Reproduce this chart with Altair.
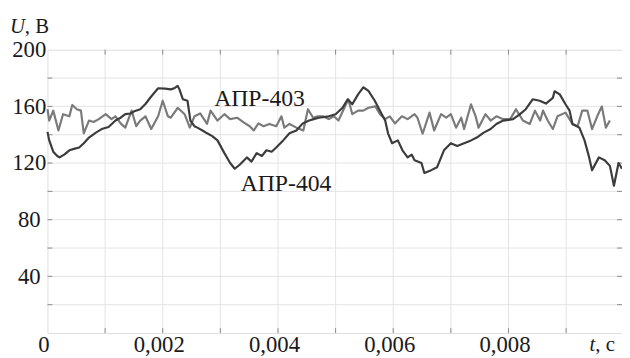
import altair as alt
import pandas as pd

# time in ms (axis shows seconds: 0,002 ...), voltage in V
t_403 = [0, 0.03, 0.10, 0.19, 0.27, 0.38, 0.43, 0.51, 0.58, 0.63,
         0.72, 0.80, 0.89, 1.01, 1.11, 1.18, 1.27, 1.35, 1.46, 1.54,
         1.61, 1.70, 1.80, 1.92, 2.00, 2.09, 2.14, 2.26, 2.38, 2.47,
         2.55, 2.65, 2.77, 2.83, 2.95, 3.07, 3.17, 3.29, 3.41, 3.51,
         3.58, 3.66, 3.75, 3.85, 3.97, 4.06, 4.11, 4.20, 4.32, 4.44,
         4.52, 4.61, 4.69, 4.78, 4.88, 4.97, 5.05, 5.14, 5.22, 5.29,
         5.39, 5.48, 5.57, 5.69, 5.77, 5.86, 5.94, 6.03, 6.15, 6.25,
         6.37, 6.42, 6.51, 6.63, 6.71, 6.83, 6.92, 7.00, 7.09, 7.18,
         7.23, 7.35, 7.43, 7.48, 7.60, 7.69, 7.79, 7.91, 8.03, 8.13,
         8.25, 8.37, 8.46, 8.55, 8.60, 8.68, 8.77, 8.85, 8.99, 9.11,
         9.20, 9.28, 9.37, 9.45, 9.54, 9.62, 9.69, 9.76]
u_403 = [158, 150, 157, 143, 154.5, 153, 161, 158, 157, 141,
         150, 149, 151, 154.5, 151, 153, 148, 145, 157, 146,
         150, 153, 144, 153, 164, 153, 152, 159, 154.5, 145,
         153, 155, 147.7, 157, 150, 154.5, 151, 152, 148.5, 146,
         143, 148, 146, 147.6, 146, 153, 145, 147.6, 145, 143,
         158, 152, 153, 153, 151, 153, 150, 158, 165, 154.5,
         157, 157, 159, 160, 154.5, 151, 153, 148, 153, 151,
         154.5, 152, 140.7, 155.6, 143, 154.5, 152, 154.5, 145, 152,
         144, 161.5, 153, 145, 154.5, 150, 153, 151, 151, 158,
         150, 147.6, 157, 150, 157, 150, 144, 153, 155.6, 147.6,
         146, 157, 157, 144, 153, 160, 145, 150]

t_404 = [0, 0.03, 0.10, 0.17, 0.21, 0.29, 0.38, 0.46, 0.55, 0.63,
         0.72, 0.84, 0.94, 1.06, 1.18, 1.27, 1.35, 1.44, 1.52, 1.61,
         1.70, 1.80, 1.92, 2.04, 2.14, 2.21, 2.26, 2.29, 2.35, 2.43,
         2.48, 2.55, 2.60, 2.69, 2.77, 2.86, 2.95, 3.07, 3.17, 3.25,
         3.34, 3.46, 3.54, 3.63, 3.72, 3.80, 3.89, 3.97, 4.09, 4.20,
         4.32, 4.43, 4.54, 4.62, 4.71, 4.88, 5.00, 5.12, 5.21, 5.29,
         5.39, 5.48, 5.57, 5.68, 5.77, 5.86, 5.91, 5.98, 6.08, 6.16,
         6.25, 6.32, 6.37, 6.49, 6.54, 6.66, 6.76, 6.88, 7.00, 7.11,
         7.23, 7.35, 7.45, 7.57, 7.69, 7.79, 7.91, 8.08, 8.20, 8.30,
         8.42, 8.54, 8.65, 8.77, 8.80, 8.89, 8.99, 9.06, 9.11, 9.23,
         9.32, 9.40, 9.45, 9.57, 9.67, 9.76, 9.83, 9.91, 9.97]
u_404 = [142, 136, 128, 125, 124, 126, 129, 130, 131, 134,
         138, 141.5, 144, 145.5, 150, 152, 154.5, 155, 156.8, 158,
         161.7, 167, 172.8, 172.5, 172, 173, 174.5, 172, 165, 164,
         150, 146, 145, 143, 141, 139, 136, 127, 120, 116,
         119, 124, 121, 127, 125, 129, 128, 131, 136, 141,
         143, 148, 150, 151, 152, 153, 154.5, 159, 165, 161.5,
         168.5, 173.5, 171, 164, 157, 150, 141, 134, 136, 129,
         124, 126, 122, 120, 113, 115, 117, 129, 134, 132,
         134, 136, 138, 141.5, 144, 147.6, 150, 151, 154.5, 158,
         165, 164, 162, 166, 170.7, 168.5, 161.5, 157, 147.6, 145,
         136, 124, 115, 124, 122, 118, 104, 120, 116]

series_names = ["АПР-403", "АПР-404"]
series_colors = ["#7a7a7a", "#3c3c3c"]

x_grid = [1, 2, 3, 4, 5, 6, 7, 8, 9]
y_grid = [20, 40, 60, 80, 100, 120, 140, 160, 180]
x_label_values = [0, 2, 4, 6, 8]
y_label_values = [40, 80, 120, 160, 200]

label_text = ["АПР-403", "АПР-404"]
label_t = [3.68, 4.14]
label_u = [165.5, 105.5]

assert len(t_403) == len(u_403) and len(t_404) == len(u_404)

df = pd.DataFrame({
    "t": t_403 + t_404,
    "u": u_403 + u_404,
    "series": [series_names[0]] * len(t_403) + [series_names[1]] * len(t_404),
})

W, H = 582, 287
FONT = "'Liberation Serif', 'DejaVu Serif', 'Times New Roman', Times, serif"
xs = alt.Scale(domain=[0, 9.97], nice=False, zero=False)
ys = alt.Scale(domain=[0, 200], nice=False)

x_axis = alt.Axis(values=x_label_values,
                  labelExpr="datum.value == 0 ? '0' : '0,00' + datum.value",
                  grid=False, ticks=False, domain=False,
                  labelFont=FONT, labelFontSize=23, labelColor="#1a1a1a",
                  labelPadding=1, labelBaseline="top", labelOffset=-4,
                  labelFlush=False, title=None)
y_axis = alt.Axis(values=y_label_values, grid=False, ticks=False, domain=False,
                  labelFont=FONT, labelFontSize=23, labelColor="#1a1a1a",
                  labelAlign="center", labelBaseline="middle", labelPadding=19,
                  labelFlush=False, title=None)

xgrid = alt.Chart(pd.DataFrame({"g": x_grid})).mark_rule(color="#e4e4e4", strokeWidth=1).encode(
    x=alt.X("g:Q", scale=xs, axis=x_axis))
ygrid = alt.Chart(pd.DataFrame({"g": y_grid})).mark_rule(color="#e4e4e4", strokeWidth=1).encode(
    y=alt.Y("g:Q", scale=ys, axis=y_axis))

tick_color = "#8a8a8a"
xt_bot = alt.Chart(pd.DataFrame({"g": x_grid})).mark_rule(color=tick_color, strokeWidth=1).encode(
    x=alt.X("g:Q", scale=xs), y=alt.value(H), y2=alt.value(H - 5))
xt_top = alt.Chart(pd.DataFrame({"g": x_grid})).mark_rule(color=tick_color, strokeWidth=1).encode(
    x=alt.X("g:Q", scale=xs), y=alt.value(0), y2=alt.value(5))
yt_left = alt.Chart(pd.DataFrame({"g": y_grid})).mark_rule(color=tick_color, strokeWidth=1).encode(
    y=alt.Y("g:Q", scale=ys), x=alt.value(0), x2=alt.value(5))
yt_right = alt.Chart(pd.DataFrame({"g": y_grid})).mark_rule(color=tick_color, strokeWidth=1).encode(
    y=alt.Y("g:Q", scale=ys), x=alt.value(W), x2=alt.value(W - 5))

lines = alt.Chart(df).mark_line(strokeWidth=2.2, strokeJoin="round").encode(
    x=alt.X("t:Q", scale=xs),
    y=alt.Y("u:Q", scale=ys),
    color=alt.Color("series:N", scale=alt.Scale(domain=series_names, range=series_colors), legend=None),
)

labels = alt.Chart(pd.DataFrame({"text": label_text, "t": label_t, "u": label_u})).mark_text(
    font=FONT, fontSize=24, color="#1a1a1a", align="center", baseline="middle").encode(
    x=alt.X("t:Q", scale=xs), y=alt.Y("u:Q", scale=ys), text="text:N")

def txt(s, x, y, italic=False):
    return alt.Chart(pd.DataFrame({"s": [s]})).mark_text(
        font=FONT, fontSize=21, color="#1a1a1a", align="left", baseline="alphabetic",
        fontStyle="italic" if italic else "normal").encode(
        x=alt.value(x), y=alt.value(y), text="s:N")

titles = [txt("U", -38, -17, True), txt(", B", -23, -17),
          txt("t", 549, 305, True), txt(", c", 555, 305)]

chart = alt.layer(xgrid, ygrid, xt_bot, xt_top, yt_left, yt_right, lines, labels, *titles).properties(
    width=W, height=H,
    autosize=alt.AutoSizeParams(type="none"),
    padding={"left": 40, "top": 40, "right": 0, "bottom": 22},
).configure_view(stroke="#999999", strokeWidth=1.5).configure(background="white")

chart.save("out.html", embed_options={"renderer": "svg", "actions": False})
